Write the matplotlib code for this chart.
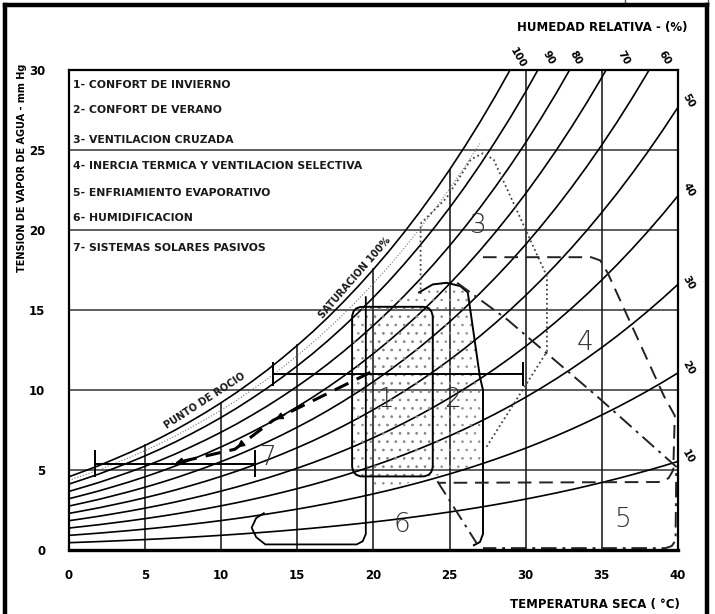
import numpy as np
import matplotlib.pyplot as plt
from matplotlib.patches import FancyBboxPatch, Polygon, Rectangle
from matplotlib.lines import Line2D

plt.rcParams['font.family'] = ['Liberation Sans Narrow', 'DejaVu Sans']
plt.rcParams['hatch.linewidth'] = 0.55

# saturation vapour pressure (mm Hg) for each degree 0..40 C
temp = np.arange(0, 41)
sat = np.array([4.58, 4.93, 5.29, 5.69, 6.10, 6.54, 7.01, 7.51, 8.05, 8.61,
                9.21, 9.84, 10.52, 11.23, 11.99, 12.79, 13.63, 14.53, 15.48, 16.48,
                17.54, 18.65, 19.83, 21.07, 22.38, 23.76, 25.21, 26.74, 28.35, 30.04,
                31.82, 33.70, 35.66, 37.73, 39.90, 42.18, 44.56, 47.07, 49.69, 52.44,
                55.32])
rh_levels = [100, 90, 80, 70, 60, 50, 40, 30, 20, 10]
top_labels = ['100', '90', '80', '70', '60']
right_labels = ['50', '40', '30', '20', '10']

legend_items = ['1- CONFORT DE INVIERNO', '2- CONFORT DE VERANO', '3- VENTILACION CRUZADA',
                '4- INERCIA TERMICA Y VENTILACION SELECTIVA', '5- ENFRIAMIENTO EVAPORATIVO',
                '6- HUMIDIFICACION', '7- SISTEMAS SOLARES PASIVOS']

# zone outlines (temperature C, vapour pressure mm Hg)
z1_box = (18.6, 4.6, 23.9, 15.2)   # t0, p0, t1, p1
z2_T = [23.0, 23.9, 24.8, 25.7, 26.2, 27.0, 27.2, 27.2, 27.0, 26.6]
z2_P = [16.1, 16.6, 16.7, 16.5, 16.1, 10.8, 10.0, 1.0, 0.5, 0.3]
z2_fill_T = [20.0, 27.2, 27.2, 27.0, 26.2, 25.7, 24.8, 23.9, 23.0, 20.0]
z2_fill_P = [3.6, 5.4, 10.0, 10.8, 16.1, 16.5, 16.7, 16.6, 16.1, 15.3]
z3_T = [23.1, 23.1, 24.8, 26.4, 27.2, 27.9, 31.4, 31.4, 27.4]
z3_P = [16.0, 20.4, 22.0, 24.4, 24.8, 24.4, 17.1, 12.4, 6.4]
z4_T = [27.2, 34.3, 34.9, 35.4, 39.1, 39.8, 39.7, 39.4, 38.9, 24.3]
z4_P = [18.3, 18.3, 18.1, 17.3, 9.6, 8.4, 5.0, 4.5, 4.25, 4.2]
z5_T = [25.5, 28.8, 34.7, 39.9, 39.85, 39.6, 39.2, 27.2]
z5_P = [16.7, 14.4, 9.6, 5.2, 0.6, 0.25, 0.12, 0.12]
z5b_T = [24.2, 26.8]
z5b_P = [4.3, 0.4]
z6_T = [19.5, 19.5, 19.3, 18.9, 12.9, 12.3, 12.0, 12.3, 12.8]
z6_P = [15.8, 1.0, 0.55, 0.35, 0.35, 0.8, 1.4, 2.0, 2.3]
z7_bar = (1.7, 12.2, 5.4)
z7_arrow_T = [19.8, 13.4, 10.9, 6.8]
z7_arrow_P = [11.1, 8.1, 6.3, 5.4]
mid_bar = (13.4, 29.8, 11.0)

zone_labels = ['1', '2', '3', '4', '5', '6', '7']
zone_label_T = [20.8, 25.2, 26.9, 33.9, 36.4, 21.9, 13.1]
zone_label_P = [9.4, 9.4, 20.3, 13.0, 1.9, 1.6, 5.8]

fig = plt.figure(figsize=(7.15, 6.14), dpi=100)
ax = fig.add_axes([0.0965, 0.1042, 0.8515, 0.7818])
ax.set_xlim(0, 40)
ax.set_ylim(0, 30)

# grid: horizontal lines full width, vertical lines stop at the saturation curve
for p in range(5, 30, 5):
    ax.plot([0, 40], [p, p], color='#333333', lw=1.1)
for t in range(5, 40, 5):
    ax.plot([t, t], [0, min(sat[t], 30)], color='#222222', lw=1.2)

# relative humidity curves
for rh in rh_levels:
    ax.plot(temp, sat * rh / 100.0, color='black', lw=1.2)
ax.plot(temp[:28], sat[:28] * 0.95, color='#777777', lw=0.8, ls=':')

# dotted comfort areas
t0, p0, t1, p1 = z1_box
ax.add_patch(Polygon(np.column_stack([z2_fill_T, z2_fill_P]), closed=True,
                     facecolor='none', edgecolor='#8c8c8c', lw=0, hatch='..', zorder=2))
ax.add_patch(FancyBboxPatch((t0, p0), t1 - t0, p1 - p0,
                            boxstyle='round,pad=0,rounding_size=0.7',
                            facecolor='none', edgecolor='#8c8c8c', lw=0, hatch='..', zorder=2))
ax.add_patch(FancyBboxPatch((t0, p0), t1 - t0, p1 - p0,
                            boxstyle='round,pad=0,rounding_size=0.7',
                            facecolor='none', edgecolor='black', lw=1.4, zorder=3))
ax.plot(z2_T, z2_P, color='black', lw=1.4, zorder=3)

ax.plot(z3_T, z3_P, color='#444444', lw=1.3, ls=(0, (1, 1.6)), zorder=3)
ax.plot(z4_T, z4_P, color='#222222', lw=1.4, ls=(0, (7, 4)), zorder=3)
ax.plot(z5_T, z5_P, color='#222222', lw=1.4, ls=(0, (8, 3, 1.5, 3)), zorder=3)
ax.plot(z5b_T, z5b_P, color='#222222', lw=1.4, ls=(0, (8, 3, 1.5, 3)), zorder=3)
ax.plot(z6_T, z6_P, color='black', lw=1.3, zorder=3)

# passive solar and range bars
a, b, p = z7_bar
ax.plot([a, b], [p, p], color='black', lw=1.4, zorder=3)
for x in (a, b):
    ax.plot([x, x], [p - 0.8, p + 0.8], color='black', lw=1.4, zorder=3)
a, b, p = mid_bar
ax.plot([a, b], [p, p], color='black', lw=1.4, zorder=3)
for x in (a, b):
    ax.plot([x, x], [p - 0.7, p + 0.7], color='black', lw=1.4, zorder=3)

ax.plot(z7_arrow_T, z7_arrow_P, color='black', lw=2.2, ls=(0, (5, 3)), zorder=4)
for i in range(1, len(z7_arrow_T)):
    ax.annotate('', xy=(z7_arrow_T[i], z7_arrow_P[i]),
                xytext=(z7_arrow_T[i - 1] * 0.15 + z7_arrow_T[i] * 0.85,
                        z7_arrow_P[i - 1] * 0.15 + z7_arrow_P[i] * 0.85),
                arrowprops=dict(arrowstyle='-|>', color='black', lw=1.2,
                                mutation_scale=10), zorder=4)

for lab, t, p in zip(zone_labels, zone_label_T, zone_label_P):
    ax.text(t, p, lab, fontsize=19, color='#333333', ha='center', va='center',
            family=['DejaVu Sans'], fontweight='light', zorder=5)

# legend list inside the chart
leg_y = [29.06, 27.5, 25.6, 24.0, 22.3, 20.75, 18.9]
for txt, y in zip(legend_items, leg_y):
    ax.text(0.25, y, txt, fontsize=7.8, fontweight='bold', ha='left', va='center',
            color='#1a1a1a')

ax.text(18.8, 17.0, 'SATURACION 100%', fontsize=7, fontweight='bold', rotation=49,
        ha='center', va='center', color='#1a1a1a')
ax.text(8.9, 9.3, 'PUNTO DE ROCIO', fontsize=7, fontweight='bold', rotation=33,
        ha='center', va='center', color='#1a1a1a')

# humidity labels along top and right edges
top_T = [29.5, 31.5, 33.3, 36.4, 39.1]
for lab, t in zip(top_labels, top_T):
    ax.text(t, 30.75, lab, fontsize=7.5, fontweight='bold', rotation=-60,
            ha='center', va='center', clip_on=False)
right_P = [28.1, 22.5, 16.7, 11.4, 5.8]
for lab, p in zip(right_labels, right_P):
    ax.text(40.7, p, lab, fontsize=7.5, fontweight='bold', rotation=-60,
            ha='center', va='center', clip_on=False)

ax.set_xticks(range(0, 45, 5))
ax.set_yticks(range(0, 35, 5))
ax.tick_params(length=0, labelsize=8.5)
ax.tick_params(axis='x', pad=14)
ax.tick_params(axis='y', pad=17)
for lbl in ax.get_xticklabels() + ax.get_yticklabels():
    lbl.set_fontweight('bold')
for s in ax.spines.values():
    s.set_linewidth(1.6)
    s.set_color('black')
ax.spines['bottom'].set_linewidth(2.4)

fig.text(0.031, 0.726, 'TENSION DE VAPOR DE AGUA - mm Hg', rotation=90, fontsize=7,
         fontweight='bold', ha='center', va='center')
fig.text(0.951, 0.016, 'TEMPERATURA SECA ( °C)', fontsize=8.5, fontweight='bold',
         ha='right', va='center')
fig.text(0.961, 0.956, 'HUMEDAD RELATIVA - (%)', fontsize=8.5, fontweight='bold',
         ha='right', va='center')

# page frame
fig.add_artist(Line2D([0.007, 0.007], [0, 0.992], transform=fig.transFigure, color='black', lw=3.2))
fig.add_artist(Line2D([0.007, 0.989], [0.992, 0.992], transform=fig.transFigure, color='black', lw=3.2))
fig.add_artist(Line2D([0.989, 0.989], [0, 0.992], transform=fig.transFigure, color='black', lw=3.2))
fig.add_artist(Rectangle((0.874, 0.993), 0.116, 0.02, transform=fig.transFigure,
                         facecolor='white', edgecolor='#555555', lw=1.0))

fig.savefig('out.png', dpi=100)
